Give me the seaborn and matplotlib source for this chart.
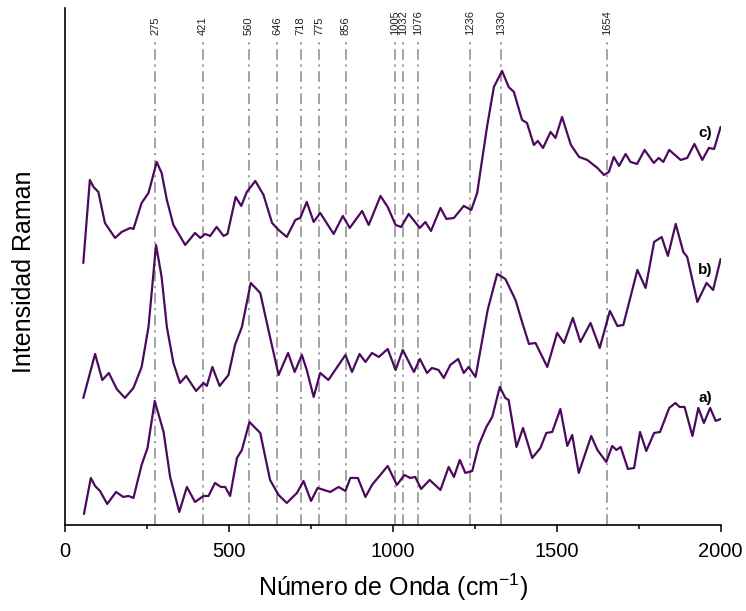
import numpy as np
import pandas as pd
import matplotlib.pyplot as plt
from matplotlib.ticker import MultipleLocator
import seaborn as sns

# -------------------
# datos (intensidad en unidades arbitrarias, con desplazamiento)
# -------------------
onda_a = [57, 78, 91, 106, 128, 155, 177, 193, 208, 233,
          251, 273, 300, 320, 348, 371, 396, 422, 437, 457,
          475, 488, 503, 524, 539, 562, 595, 625, 651, 676,
          707, 727, 750, 770, 809, 834, 855, 870, 893, 916,
          936, 984, 1012, 1035, 1053, 1068, 1086, 1112, 1145, 1170,
          1186, 1204, 1221, 1242, 1262, 1285, 1303, 1326, 1343, 1353,
          1377, 1397, 1425, 1450, 1468, 1486, 1511, 1532, 1547, 1567,
          1605, 1624, 1651, 1669, 1682, 1695, 1717, 1736, 1754, 1773,
          1797, 1815, 1843, 1862, 1875, 1890, 1914, 1932, 1949, 1968,
          1985, 2000]
int_a = [11, 47, 39, 34, 21, 33, 28, 29, 27, 60,
         77, 124, 93, 48, 13, 38, 23, 29, 29, 42,
         38, 38, 29, 67, 75, 103, 92, 45, 30, 22,
         32, 44, 24, 37, 33, 38, 34, 47, 47, 28,
         40, 59, 40, 50, 47, 48, 36, 45, 35, 58,
         48, 65, 52, 54, 80, 98, 108, 138, 127, 125,
         78, 97, 67, 77, 92, 93, 116, 79, 90, 52,
         89, 75, 63, 79, 75, 78, 56, 57, 93, 74,
         92, 93, 117, 122, 118, 118, 89, 117, 102, 117,
         104, 106]

onda_b = [55, 91, 113, 133, 157, 182, 208, 233, 254, 277,
          294, 310, 330, 350, 369, 399, 422, 432, 449, 471,
          498, 518, 539, 566, 595, 620, 651, 680, 700, 722,
          737, 758, 778, 803, 855, 875, 898, 916, 936, 957,
          984, 1008, 1030, 1064, 1082, 1104, 1119, 1139, 1155, 1175,
          1199, 1216, 1231, 1252, 1267, 1289, 1318, 1343, 1374, 1394,
          1415, 1435, 1471, 1501, 1522, 1549, 1572, 1603, 1631, 1662,
          1685, 1703, 1746, 1771, 1797, 1820, 1839, 1863, 1886, 1898,
          1929, 1957, 1977, 2000]
int_b = [127, 171, 145, 152, 136, 127, 137, 158, 198, 280,
         248, 198, 162, 142, 149, 134, 142, 139, 158, 139,
         150, 180, 198, 242, 232, 195, 150, 172, 153, 170,
         155, 128, 152, 145, 170, 153, 171, 163, 172, 168,
         176, 155, 175, 153, 166, 152, 157, 155, 147, 160,
         166, 152, 158, 148, 175, 215, 251, 246, 225, 203,
         181, 182, 158, 192, 182, 207, 183, 202, 177, 214,
         199, 200, 255, 237, 283, 288, 269, 301, 273, 268,
         223, 242, 235, 266]

onda_c = [55, 75, 86, 101, 121, 152, 172, 198, 208, 233,
          254, 279, 294, 310, 330, 366, 396, 412, 427, 442,
          462, 483, 495, 520, 537, 554, 580, 605, 631, 651,
          676, 702, 717, 737, 758, 778, 819, 847, 868, 906,
          926, 962, 984, 1008, 1025, 1048, 1082, 1099, 1116, 1145,
          1163, 1186, 1216, 1239, 1257, 1287, 1308, 1333, 1353, 1369,
          1394, 1409, 1430, 1442, 1458, 1481, 1496, 1516, 1543, 1568,
          1593, 1624, 1644, 1659, 1674, 1690, 1710, 1725, 1745, 1768,
          1796, 1811, 1825, 1843, 1878, 1898, 1920, 1944, 1964, 1980,
          2000]
int_c = [262, 345, 338, 333, 302, 287, 293, 297, 296, 322,
         332, 363, 352, 325, 300, 280, 292, 287, 291, 289,
         298, 289, 291, 328, 319, 333, 344, 330, 302, 295,
         288, 305, 307, 323, 303, 312, 291, 309, 297, 314,
         300, 329, 318, 300, 298, 311, 297, 303, 294, 317,
         306, 307, 319, 315, 332, 398, 438, 454, 438, 433,
         405, 402, 380, 384, 377, 393, 387, 408, 380, 368,
         365, 357, 350, 353, 368, 359, 371, 363, 361, 375,
         362, 367, 363, 375, 365, 367, 381, 365, 377, 376,
         398]

picos = [275, 421, 560, 646, 718, 775, 856, 1005, 1032, 1076, 1236, 1330, 1654]
muestras = ["a)", "b)", "c)"]

# -------------------
# tabla larga para seaborn
# -------------------
df = pd.concat([
    pd.DataFrame({"onda": onda_a, "intensidad": int_a, "muestra": "a)"}),
    pd.DataFrame({"onda": onda_b, "intensidad": int_b, "muestra": "b)"}),
    pd.DataFrame({"onda": onda_c, "intensidad": int_c, "muestra": "c)"}),
], ignore_index=True)

sns.set_theme(style="white")
plt.rcParams['font.family'] = ['Liberation Sans', 'DejaVu Sans']
plt.rcParams['text.color'] = 'black'
plt.rcParams['axes.labelcolor'] = 'black'
plt.rcParams['xtick.color'] = 'black'

color = "#4b0a5e"
y_top = 517

fig, ax = plt.subplots(figsize=(7.46, 6.11), dpi=100)
fig.subplots_adjust(left=0.0875, right=0.966, bottom=0.1408, top=0.987)

# lineas de los picos
for p in picos:
    ax.axvline(p, ymin=0, ymax=485 / y_top, color="#8a8a8a", lw=1.1,
               ls=(0, (7, 3, 1.5, 3)), zorder=1)
    ax.text(p, 490, str(p), rotation=90, ha="center", va="bottom",
            fontsize=8, color="#222222")

sns.lineplot(data=df, x="onda", y="intensidad", hue="muestra",
             palette=[color] * 3, sort=False, estimator=None,
             legend=False, lw=1.6, ax=ax, zorder=3)

# etiquetas de cada espectro
for m, ypos in zip(muestras, [127, 255, 392]):
    ax.text(1954, ypos, m, fontsize=11, fontweight="bold",
            ha="center", va="center", color="black")

ax.set_xlim(0, 2000)
ax.set_ylim(0, y_top)
ax.set_yticks([])
ax.xaxis.set_major_locator(MultipleLocator(500))
ax.xaxis.set_minor_locator(MultipleLocator(250))
ax.tick_params(axis="x", which="major", direction="out", length=5, width=1.1,
               labelsize=14.5, pad=7, bottom=True, color="black")
ax.tick_params(axis="x", which="minor", direction="out", length=3, width=1.1,
               bottom=True, color="black")

for s in ["top", "right"]:
    ax.spines[s].set_visible(False)
for s in ["left", "bottom"]:
    ax.spines[s].set_color("black")
    ax.spines[s].set_linewidth(1.2)

ax.set_xlabel("Número de Onda (cm$^{\\mathregular{-1}}$)", fontsize=18, labelpad=8)
ax.set_ylabel("Intensidad Raman", fontsize=18)
ax.yaxis.set_label_coords(-0.045, 0.49)

plt.savefig("out.png", dpi=100)
plt.close("all")
